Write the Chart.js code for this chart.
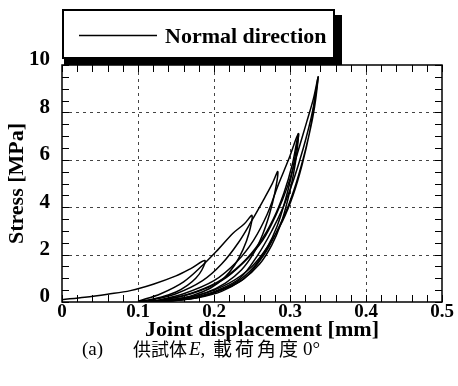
<!DOCTYPE html>
<html><head><meta charset="utf-8">
<script src="https://cdn.jsdelivr.net/npm/chart.js@4"></script>
<style>
html,body{margin:0;padding:0;background:#fff;}
#wrap{position:relative;width:458px;height:386px;overflow:hidden;}
canvas{position:absolute;left:0;top:0;}
.t{position:absolute;white-space:nowrap;color:#000;}
.lat{font-family:"Liberation Serif","Times New Roman",serif;}
.jp{font-family:"Noto Sans CJK JP",sans-serif;}
</style></head><body>
<div id="wrap">
<canvas id="c" width="458" height="386"></canvas>
<div class="t lat" id="xtitle" style="left:0;width:524px;text-align:center;top:317px;font-size:21px;font-weight:bold;line-height:24px;transform:scaleX(1.05);transform-origin:262px 0;">Joint displacement [mm]</div>
<span class="t lat" style="left:82px;top:338px;font-size:19px;line-height:22px;">(a)</span>
<span class="t jp" style="left:133px;top:337px;font-size:18px;line-height:22px;">供試体</span>
<span class="t lat" style="left:189px;top:338px;font-size:19px;line-height:22px;"><i>E</i>,</span>
<span class="t jp" style="left:213px;top:337px;font-size:19px;line-height:22px;letter-spacing:3px;">載荷角度</span>
<span class="t lat" style="left:303px;top:338px;font-size:19px;line-height:22px;">0°</span>
</div>
<script>
const seriesLabel = "Normal direction";
const xTickLabels = ["0","0.1","0.2","0.3","0.4","0.5"];
const yTickLabels = ["0","2","4","6","8","10"];

// each cycle: loading branch followed by unloading branch (displacement mm, stress MPa)
const cycle1Disp   = [0, 0.03, 0.06, 0.09, 0.12, 0.15, 0.17, 0.188, 0.184, 0.176, 0.165, 0.15, 0.13, 0.11, 0.1];
const cycle1Stress = [0.1, 0.2, 0.33, 0.48, 0.75, 1.1, 1.42, 1.75, 1.35, 1.0, 0.7, 0.42, 0.2, 0.07, 0.03];
const cycle2Disp   = [0.1, 0.13, 0.16, 0.185, 0.205, 0.225, 0.24, 0.25, 0.246, 0.238, 0.227, 0.213, 0.195, 0.172, 0.145, 0.12, 0.1];
const cycle2Stress = [0.03, 0.35, 0.85, 1.55, 2.2, 2.9, 3.3, 3.65, 2.9, 2.2, 1.55, 1.0, 0.58, 0.28, 0.1, 0.03, 0.02];
const cycle3Disp   = [0.11, 0.15, 0.185, 0.21, 0.232, 0.25, 0.265, 0.276, 0.284, 0.28, 0.273, 0.264, 0.252, 0.236, 0.215, 0.19, 0.16, 0.13, 0.11];
const cycle3Stress = [0.02, 0.35, 0.9, 1.6, 2.5, 3.45, 4.3, 4.95, 5.5, 4.6, 3.7, 2.85, 2.05, 1.35, 0.8, 0.4, 0.15, 0.05, 0.02];
const cycle4Disp   = [0.12, 0.16, 0.2, 0.23, 0.252, 0.27, 0.284, 0.298, 0.311, 0.307, 0.301, 0.293, 0.283, 0.27, 0.253, 0.23, 0.2, 0.17, 0.14, 0.12];
const cycle4Stress = [0.02, 0.35, 0.9, 1.7, 2.6, 3.7, 4.9, 6.0, 7.1, 6.2, 5.2, 4.2, 3.2, 2.3, 1.5, 0.85, 0.4, 0.15, 0.05, 0.02];
const cycle5Disp   = [0.12, 0.17, 0.21, 0.24, 0.264, 0.282, 0.297, 0.31, 0.322, 0.331, 0.337, 0.333, 0.328, 0.321, 0.313, 0.303, 0.291, 0.276, 0.258, 0.234, 0.205, 0.175, 0.145, 0.12];
const cycle5Stress = [0.02, 0.35, 0.9, 1.7, 2.6, 3.7, 4.9, 6.3, 7.6, 8.6, 9.5, 8.6, 7.8, 6.9, 6.0, 5.0, 4.0, 3.0, 2.0, 1.0, 0.5, 0.2, 0.06, 0.02];
const cycle6Disp   = [0.125, 0.18, 0.22, 0.25, 0.272, 0.29, 0.304, 0.316, 0.326, 0.332, 0.337, 0.334, 0.33, 0.324, 0.317, 0.308, 0.297, 0.283, 0.266, 0.24, 0.21, 0.18, 0.15, 0.125];
const cycle6Stress = [0.02, 0.3, 0.8, 1.5, 2.4, 3.4, 4.5, 5.8, 7.2, 8.4, 9.5, 8.6, 7.8, 6.9, 6.0, 5.0, 4.0, 3.0, 2.0, 1.0, 0.5, 0.2, 0.06, 0.02];
const cycle7Disp   = [0.12, 0.165, 0.205, 0.236, 0.26, 0.278, 0.292, 0.303, 0.311, 0.309, 0.304, 0.297, 0.288, 0.276, 0.26, 0.238, 0.21, 0.178, 0.145, 0.12];
const cycle7Stress = [0.02, 0.32, 0.85, 1.6, 2.5, 3.5, 4.6, 5.8, 7.1, 6.3, 5.3, 4.3, 3.3, 2.4, 1.6, 0.95, 0.45, 0.18, 0.05, 0.02];

const cycles = [
  [cycle1Disp, cycle1Stress], [cycle2Disp, cycle2Stress], [cycle3Disp, cycle3Stress],
  [cycle4Disp, cycle4Stress], [cycle7Disp, cycle7Stress], [cycle5Disp, cycle5Stress],
  [cycle6Disp, cycle6Stress]
];

const datasets = cycles.map(([xs, ys]) => ({
  label: seriesLabel,
  data: xs.map((x, j) => ({x: x, y: ys[j]})),
  showLine: true,
  pointRadius: 0,
  borderColor: '#000',
  borderWidth: 1.5,
  tension: 0.35,
  fill: false
}));

const SERIF = '"Liberation Serif","Times New Roman",serif';

const framePlugin = {
  id: 'framePlugin',
  beforeDatasetsDraw(chart) {
    const {ctx, chartArea: a, scales: {x, y}} = chart;
    ctx.save();
    ctx.strokeStyle = '#444';
    ctx.lineWidth = 1;
    ctx.setLineDash([3, 4]);
    for (let i = 1; i < xTickLabels.length - 1; i++) {
      const px = Math.round(x.getPixelForValue(parseFloat(xTickLabels[i]))) + 0.5;
      ctx.beginPath(); ctx.moveTo(px, a.top); ctx.lineTo(px, a.bottom); ctx.stroke();
    }
    for (let i = 1; i < yTickLabels.length - 1; i++) {
      const py = Math.round(y.getPixelForValue(parseFloat(yTickLabels[i]))) + 0.5;
      ctx.beginPath(); ctx.moveTo(a.left, py); ctx.lineTo(a.right, py); ctx.stroke();
    }
    ctx.restore();
  },
  afterDatasetsDraw(chart) {
    const {ctx, chartArea: a, scales: {x, y}} = chart;
    ctx.save();
    ctx.strokeStyle = '#000';
    ctx.setLineDash([]);
    ctx.lineWidth = 1;
    const tl = 7;
    for (let i = 0; i <= 25; i++) {
      const px = Math.round(x.getPixelForValue(x.min + i * 0.02)) + 0.5;
      ctx.beginPath();
      ctx.moveTo(px, a.bottom); ctx.lineTo(px, a.bottom - tl);
      ctx.moveTo(px, a.top); ctx.lineTo(px, a.top + tl);
      ctx.stroke();
    }
    for (let i = 0; i <= 20; i++) {
      const py = Math.round(y.getPixelForValue(y.min + i * 0.5)) + 0.5;
      ctx.beginPath();
      ctx.moveTo(a.left, py); ctx.lineTo(a.left + tl, py);
      ctx.moveTo(a.right, py); ctx.lineTo(a.right - tl, py);
      ctx.stroke();
    }
    ctx.lineWidth = 1.5;
    ctx.strokeRect(a.left, a.top, a.right - a.left, a.bottom - a.top);
    ctx.restore();
  },
  afterDraw(chart) {
    const {ctx} = chart;
    ctx.save();
    ctx.fillStyle = '#000';
    ctx.fillRect(64, 58, 278, 7);
    ctx.fillRect(334, 15, 8, 50);
    ctx.fillStyle = '#fff';
    ctx.fillRect(63, 10, 271, 48);
    ctx.strokeStyle = '#000';
    ctx.lineWidth = 2;
    ctx.strokeRect(63, 10, 271, 48);
    ctx.lineWidth = 1.5;
    ctx.beginPath(); ctx.moveTo(79, 35.5); ctx.lineTo(157, 35.5); ctx.stroke();
    ctx.fillStyle = '#000';
    ctx.font = 'bold 22px ' + SERIF;
    ctx.textBaseline = 'middle';
    ctx.textAlign = 'left';
    ctx.fillText(chart.data.datasets[0].label, 165, 37);
    ctx.restore();
  }
};

new Chart(document.getElementById('c'), {
  type: 'scatter',
  data: {datasets},
  plugins: [framePlugin],
  options: {
    responsive: false,
    animation: false,
    devicePixelRatio: 1,
    layout: {padding: {top: 65, right: 16, bottom: 45, left: 0}},
    plugins: {legend: {display: false}, tooltip: {enabled: false}},
    scales: {
      x: {
        type: 'linear', min: 0, max: 0.5,
        afterFit(s) { s.height = 39; },
        grid: {display: false, drawTicks: false},
        border: {display: false},
        ticks: {
          stepSize: 0.1, padding: 0, color: '#000',
          font: {family: SERIF, size: 19, weight: 'bold', lineHeight: 1.1},
          maxRotation: 0,
          callback: (v) => xTickLabels[Math.round(v * 10)]
        }
      },
      y: {
        type: 'linear', min: 0, max: 10,
        afterFit(s) { s.width = 62; },
        grid: {display: false, drawTicks: false},
        border: {display: false},
        title: {display: true, text: 'Stress [MPa]', color: '#000', padding: {top: 4, bottom: 0},
          font: {family: SERIF, size: 22, weight: 'bold'}},
        ticks: {
          stepSize: 2, padding: 12, color: '#000', labelOffset: -5,
          font: {family: SERIF, size: 21, weight: 'bold'},
          callback: (v) => yTickLabels[Math.round(v / 2)]
        }
      }
    }
  }
});
</script>
</body></html>
